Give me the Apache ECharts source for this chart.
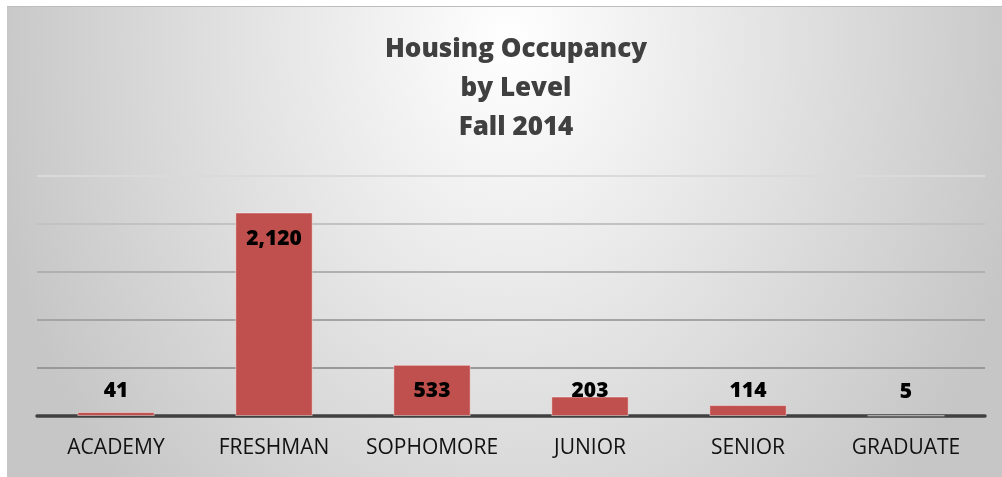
<!DOCTYPE html>
<html>
<head>
<meta charset="utf-8">
<script src="https://cdn.jsdelivr.net/npm/echarts@6/dist/echarts.min.js"></script>
<style>
  html, body { margin: 0; padding: 0; background: #fff; }
  #bg {
    position: absolute; left: 7px; top: 6px; width: 995px; height: 471px;
    border-top: 1px solid #bdbdbd;
    background: radial-gradient(ellipse 530px 660px at 503px 34px, #ffffff 0%, #c6c6c6 100%);
  }
  #chart { position: absolute; left: 0; top: 0; width: 1002px; height: 477px; }
</style>
</head>
<body>
<div id="bg"></div>
<div id="chart"></div>
<script>
// data
const categories = ["ACADEMY", "FRESHMAN", "SOPHOMORE", "JUNIOR", "SENIOR", "GRADUATE"]
const occupancy = [41, 2120, 533, 203, 114, 5]
const titleLines = ["Housing Occupancy", "by Level", "Fall 2014"]

const chart = echarts.init(document.getElementById("chart"), null, { renderer: "canvas" })

// big bars get the label inside the top, small ones sit just above the axis
const barData = occupancy.map((v) => {
  const inside = v > 400
  return {
    value: v,
    label: inside
      ? { position: "insideTop", distance: 16 }
      : { position: "insideBottom", distance: 14 }
  }
})

const option = {
  backgroundColor: "transparent",
  title: {
    text: titleLines.join("\n"),
    left: 511,
    top: 25,
    textAlign: "center",
    textStyle: {
      fontFamily: "Open Sans",
      fontWeight: 800,
      fontSize: 26,
      lineHeight: 39,
      color: "#404040"
    }
  },
  grid: {
    left: 37,
    right: 17,
    top: 176,
    bottom: 61
  },
  xAxis: {
    type: "category",
    data: categories,
    axisLine: {
      show: true,
      lineStyle: { color: "#404040", width: 3.5 }
    },
    axisTick: { show: false },
    axisLabel: {
      margin: 22,
      interval: 0,
      fontFamily: "Open Sans",
      fontSize: 21,
      color: "#111"
    }
  },
  yAxis: {
    type: "value",
    min: 0,
    max: 2500,
    interval: 500,
    axisLine: { show: false },
    axisTick: { show: false },
    axisLabel: { show: false },
    splitLine: {
      show: true,
      lineStyle: {
        // lines fade out towards the top
        color: ["#8c8c8c", "#999999", "#a4a4a4", "#b0b0b0", "#c2c2c2", "#dadada"],
        width: 2
      }
    }
  },
  series: [
    {
      type: "bar",
      data: barData,
      barWidth: "49%",
      itemStyle: {
        color: "#c0504d",
        borderColor: "rgba(255,255,255,0.45)",
        borderWidth: 1
      },
      label: {
        show: true,
        fontFamily: "Open Sans",
        fontWeight: 800,
        fontSize: 21,
        color: "#000",
        formatter: (p) => p.value.toLocaleString("en-US")
      },
      z: 3
    }
  ]
}

chart.setOption(option)
</script>
</body>
</html>
